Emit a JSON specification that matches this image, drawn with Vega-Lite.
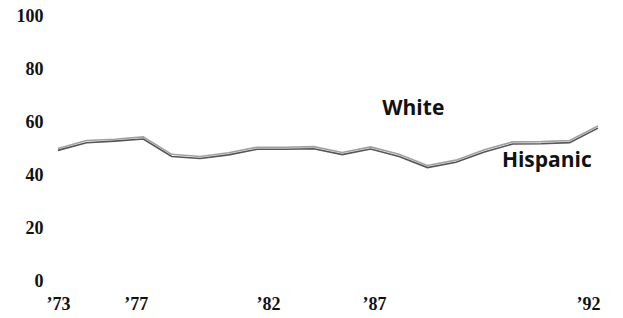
{
  "$schema": "https://vega.github.io/schema/vega-lite/v6.json",
  "autosize": {"type": "none"},
  "padding": {"left": 58, "top": 16, "right": 25, "bottom": 37},
  "width": 540,
  "height": 265,
  "background": "white",
  "config": {"view": {"stroke": null}},
  "datasets": {
    "rates": [
      {"year": 1973, "group": "White", "pct": 50.0},
      {"year": 1974, "group": "White", "pct": 53.0},
      {"year": 1975, "group": "White", "pct": 53.5},
      {"year": 1976, "group": "White", "pct": 54.4},
      {"year": 1977, "group": "White", "pct": 47.8},
      {"year": 1978, "group": "White", "pct": 47.0},
      {"year": 1979, "group": "White", "pct": 48.4},
      {"year": 1980, "group": "White", "pct": 50.5},
      {"year": 1981, "group": "White", "pct": 50.5},
      {"year": 1982, "group": "White", "pct": 50.7},
      {"year": 1983, "group": "White", "pct": 48.5},
      {"year": 1984, "group": "White", "pct": 50.6},
      {"year": 1985, "group": "White", "pct": 47.8},
      {"year": 1986, "group": "White", "pct": 43.6},
      {"year": 1987, "group": "White", "pct": 45.6},
      {"year": 1988, "group": "White", "pct": 49.5},
      {"year": 1989, "group": "White", "pct": 52.5},
      {"year": 1990, "group": "White", "pct": 52.6},
      {"year": 1991, "group": "White", "pct": 53.0},
      {"year": 1992, "group": "White", "pct": 58.5},
      {"year": 1973, "group": "Hispanic", "pct": 49.3},
      {"year": 1974, "group": "Hispanic", "pct": 52.2},
      {"year": 1975, "group": "Hispanic", "pct": 52.8},
      {"year": 1976, "group": "Hispanic", "pct": 53.6},
      {"year": 1977, "group": "Hispanic", "pct": 47.0},
      {"year": 1978, "group": "Hispanic", "pct": 46.2},
      {"year": 1979, "group": "Hispanic", "pct": 47.6},
      {"year": 1980, "group": "Hispanic", "pct": 49.7},
      {"year": 1981, "group": "Hispanic", "pct": 49.7},
      {"year": 1982, "group": "Hispanic", "pct": 49.9},
      {"year": 1983, "group": "Hispanic", "pct": 47.7},
      {"year": 1984, "group": "Hispanic", "pct": 49.8},
      {"year": 1985, "group": "Hispanic", "pct": 47.0},
      {"year": 1986, "group": "Hispanic", "pct": 42.8},
      {"year": 1987, "group": "Hispanic", "pct": 44.8},
      {"year": 1988, "group": "Hispanic", "pct": 48.7},
      {"year": 1989, "group": "Hispanic", "pct": 51.7},
      {"year": 1990, "group": "Hispanic", "pct": 51.8},
      {"year": 1991, "group": "Hispanic", "pct": 52.2},
      {"year": 1992, "group": "Hispanic", "pct": 57.7}
    ],
    "labels": [
      {"year": 1985.5, "pct": 65.0, "text": "White"},
      {"year": 1990.2, "pct": 45.2, "text": "Hispanic"}
    ]
  },
  "layer": [
    {
      "data": {"name": "rates"},
      "mark": {"type": "line", "strokeWidth": 1.6, "interpolate": "linear"},
      "encoding": {
        "x": {
          "field": "year",
          "type": "quantitative",
          "scale": {"domain": [1973, 1992], "nice": false, "zero": false},
          "axis": {
            "title": null,
            "domain": false,
            "ticks": false,
            "grid": false,
            "values": [1973, 1975.74, 1980.39, 1984.12, 1991.65],
            "labelExpr": "datum.value < 1974 ? '’73' : datum.value < 1977 ? '’77' : datum.value < 1982 ? '’82' : datum.value < 1986 ? '’87' : '’92'",
            "labelFont": "Liberation Serif",
            "labelFontWeight": "bold",
            "labelFontSize": 18,
            "labelColor": "#111",
            "labelPadding": 14,
            "labelFlush": false
          }
        },
        "y": {
          "field": "pct",
          "type": "quantitative",
          "scale": {"domain": [0, 100], "nice": false},
          "axis": {
            "title": null,
            "domain": false,
            "ticks": false,
            "grid": false,
            "values": [0, 20, 40, 60, 80, 100],
            "labelFont": "Liberation Serif",
            "labelFontWeight": "bold",
            "labelFontSize": 18,
            "labelColor": "#111",
            "labelPadding": 15
          }
        },
        "color": {
          "field": "group",
          "type": "nominal",
          "scale": {"domain": ["White", "Hispanic"], "range": ["#a0a0a0", "#555555"]},
          "legend": null
        }
      }
    },
    {
      "data": {"name": "labels"},
      "mark": {"type": "text", "font": "Open Sans", "fontWeight": "bold", "fontSize": 21, "color": "#111", "align": "center", "baseline": "middle"},
      "encoding": {
        "x": {"field": "year", "type": "quantitative"},
        "y": {"field": "pct", "type": "quantitative"},
        "text": {"field": "text"}
      }
    }
  ]
}
